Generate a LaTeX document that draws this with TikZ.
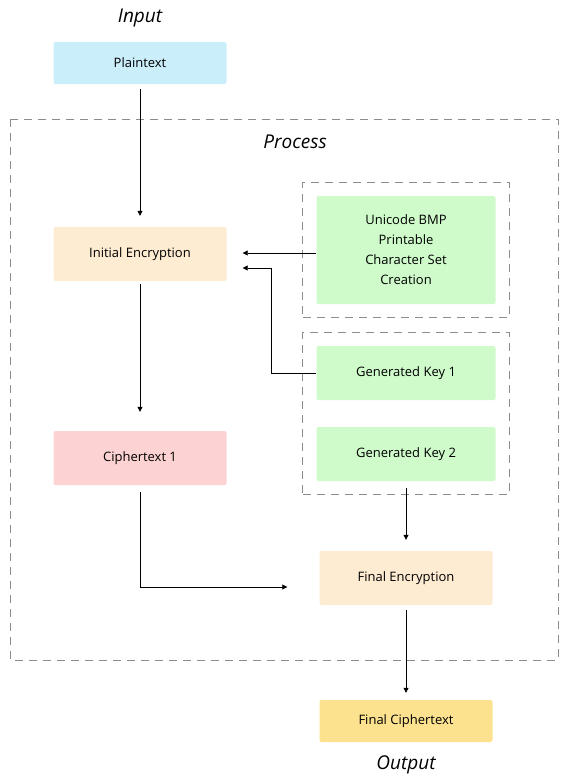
\documentclass[tikz,border=0pt]{standalone}
\usepackage{fontspec}
\setmainfont{Open Sans}
\usepackage{tikz}
\usetikzlibrary{positioning, fit, calc, arrows.meta}

\definecolor{plainblue}{HTML}{CBEEFB}
\definecolor{encpeach}{HTML}{FDEBD2}
\definecolor{cipherpink}{HTML}{FDD2D2}
\definecolor{keygreen}{HTML}{CFFBCB}
\definecolor{finalyellow}{HTML}{FCE28E}
\definecolor{dashgray}{HTML}{8C8C8C}

\tikzset{
  box/.style={rounded corners=2pt, align=center, font=\fontsize{13}{20}\selectfont,
    minimum width=173pt, minimum height=54pt, inner sep=0pt},
  group/.style={draw=dashgray, dash pattern=on 8pt off 6pt, line width=0.9pt, inner sep=13.5pt},
  title/.style={font=\fontsize{19}{22}\selectfont\itshape},
  flow/.style={->, line width=0.8pt},
}

\begin{document}
\begin{tikzpicture}[x=1pt,y=-1pt,>={Triangle[length=5pt,width=5pt]}]
      \useasboundingbox (0,0) rectangle (560,776);
      % outer process frame
      \draw[group] (10,119) rectangle (558,660);
      \node[title] (process_lbl) at (295,142) {Process};
      %
      \node[title] (input_lbl) at (140,18) {Input};
      \node[box, fill=plainblue, minimum height=42pt] (plain) at (140,63) {Plaintext};
      \node[box, fill=encpeach] (initial) at (140,254) {Initial Encryption};
      \node[box, fill=cipherpink] (cipher1) at (140,458) {Ciphertext 1};
      %
      \node[box, fill=keygreen, minimum width=179pt, minimum height=108pt] (charset) at (406,250)
        {Unicode BMP\\Printable\\Character Set\\Creation};
      \node[box, fill=keygreen, minimum width=179pt] (key1) at (406,373) {Generated Key 1};
      \node[box, fill=keygreen, minimum width=179pt] (key2) at (406,454) {Generated Key 2};
      \node[group, fit=(charset)] (charset_grp) {};
      \node[group, fit=(key1) (key2)] (key_grp) {};
      %
      \node[box, fill=encpeach] (finalenc) at (406,578) {Final Encryption};
      \node[box, fill=finalyellow, minimum height=42pt] (finalct) at (406,721) {Final Ciphertext};
      \node[title] (output_lbl) at (406,765) {Output};

      \draw[flow, shorten <=5pt, shorten >=11pt] (plain) -- (initial);
      \draw[flow, shorten >=16pt] (charset.west |- 0,253) -- (initial.east |- 0,253);
      \draw[flow, shorten >=16pt] (key1.west) -- ++(-45,0) |- ([yshift=-14pt]initial.east);
      \draw[flow, shorten <=3pt, shorten >=19pt] (initial) -- (cipher1);
      \draw[flow, shorten <=7pt, shorten >=11pt] (key2) -- (finalenc);
      \draw[flow, shorten <=7pt, shorten >=32pt] (cipher1.south) |- ([yshift=-9pt]finalenc.west);
      \draw[flow, shorten <=5pt, shorten >=7pt] (finalenc) -- (finalct);
\end{tikzpicture}
\end{document}
